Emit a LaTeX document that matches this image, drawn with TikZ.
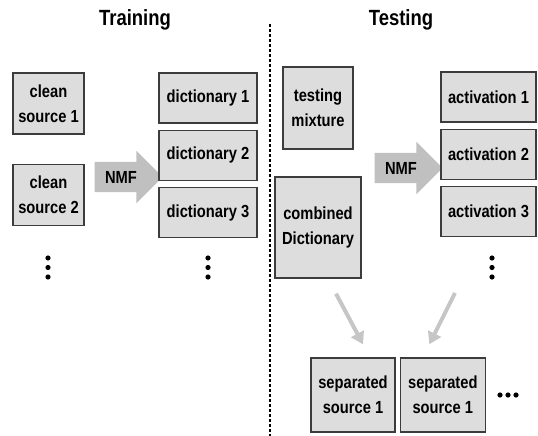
\documentclass[tikz,border=0pt]{standalone}
\usepackage{fontspec}
\setmainfont{Liberation Sans}[FakeStretch=0.84]
\usetikzlibrary{positioning,shapes.arrows,arrows.meta}
\definecolor{boxfill}{RGB}{221,221,221}
\definecolor{boxline}{RGB}{60,60,60}
\definecolor{nmfgray}{RGB}{192,192,192}
\definecolor{outgray}{RGB}{198,198,198}
\tikzset{
  box/.style={draw=boxline,fill=boxfill,line width=1.3pt,align=center,inner sep=0pt,
    font=\bfseries\fontsize{17.5}{25}\selectfont},
  nmf/.style={single arrow,fill=nmfgray,single arrow head extend=11pt,single arrow tip angle=90,
    minimum height=68pt,inner xsep=3pt,inner ysep=8.75pt,text height=12.5pt,text depth=0pt,
    font=\bfseries\fontsize{17.5}{20}\selectfont},
  title/.style={anchor=base,font=\bfseries\fontsize{22}{24}\selectfont},
  outarrow/.style={draw=outgray,line width=4pt,-{Triangle[length=12pt,width=14pt]}},
}

\begin{document}
\begin{tikzpicture}[x=1pt,y=-1pt]
            \useasboundingbox (0,0) rectangle (538,436);
            % titles and separator
            \node[title] (train) at (135,26) {Training};
            \node[title] (test) at (401,26) {Testing};
            \draw[line width=1.2pt,dash pattern=on 3pt off 2pt] (270,24) -- (270,436);
            % training side
            \node[box,minimum width=71pt,minimum height=61pt] (src1) at (48.5,103.5) {clean\\source 1};
            \node[box,minimum width=71pt,minimum height=61pt,below=29pt of src1] (src2) {clean\\source 2};
            \node[nmf] (nmf1) at (121,177) {NMF};
            \node[box,minimum width=98pt,minimum height=50pt] (dict1) at (208,98) {dictionary 1};
            \node[box,minimum width=98pt,minimum height=50pt,below=6pt of dict1] (dict2) {dictionary 2};
            \node[box,minimum width=98pt,minimum height=50pt,below=6pt of dict2] (dict3) {dictionary 3};
            % testing side
            \node[box,minimum width=70pt,minimum height=82pt] (mix) at (318,108) {testing\\mixture};
            \node[box,minimum width=86pt,minimum height=101pt] (comb) at (318,227.5) {combined\\Dictionary};
            \node[nmf] (nmf2) at (401,168) {NMF};
            \node[box,minimum width=95pt,minimum height=50pt] (act1) at (488.5,97) {activation 1};
            \node[box,minimum width=95pt,minimum height=50pt,below=6pt of act1] (act2) {activation 2};
            \node[box,minimum width=95pt,minimum height=50pt,below=6pt of act2] (act3) {activation 3};
            \node[box,minimum width=84pt,minimum height=74pt] (sep1) at (353,395) {separated\\source 1};
            \node[box,minimum width=85pt,minimum height=74pt,right=4pt of sep1] (sep2) {separated\\source 1};
            % more of the same
            \foreach \cx in {48,208,492}
                \foreach \dy in {0,9.5,19}
                    \fill (\cx,258+\dy) circle (2.6pt);
            \foreach \dx in {0,8,16}
                \fill (500+\dx,395) circle (2.6pt);
            \coordinate (actdots) at (492,278);
            \draw[outarrow] ([xshift=18pt,yshift=-15pt]comb.south) -- ([xshift=10pt,yshift=13pt]sep1.north);
            \draw[outarrow] ([xshift=-37pt,yshift=-15pt]actdots) -- ([xshift=-13.5pt,yshift=13pt]sep2.north);
\end{tikzpicture}
\end{document}
